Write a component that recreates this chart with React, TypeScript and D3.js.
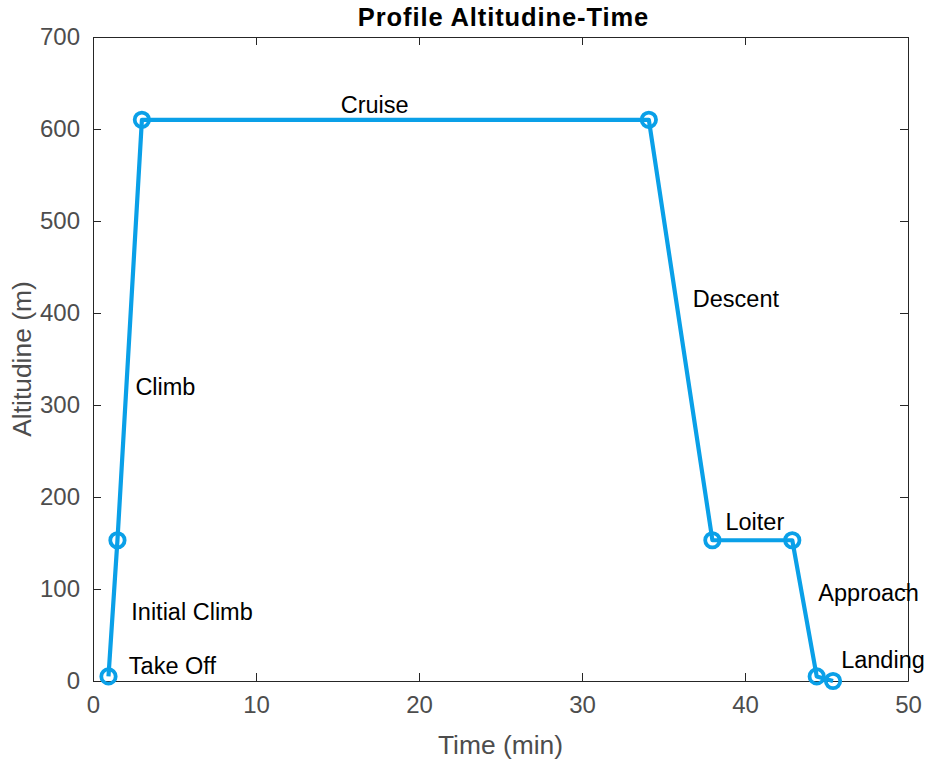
import React, { useRef, useEffect } from "react";
import * as d3 from "d3";

// flight profile points (time in min, altitude in m)
const times = [0.95, 1.5, 3, 34.1, 38, 42.9, 44.4, 45.4];
const altitudes = [5, 153, 610, 610, 153, 153, 5, 0];

// phase labels, placed in data coordinates (left aligned, vertically centered)
const labelText = ["Take Off", "Initial Climb", "Climb", "Cruise", "Descent", "Loiter", "Approach", "Landing"];
const labelX = [2.2, 2.35, 2.6, 15.2, 36.8, 38.8, 44.5, 45.9];
const labelY = [16, 75, 320, 626, 415, 173, 96, 23];

const xTicks = [0, 10, 20, 30, 40, 50];
const yTicks = [0, 100, 200, 300, 400, 500, 600, 700];

const W = 927;
const H = 765;
const margin = { left: 93, top: 37, right: 19, bottom: 84 };
const lineColor = "#0aa0e8";

export default function App() {
  const svgRef = useRef<SVGSVGElement>(null);

  useEffect(() => {
    const svg = d3.select(svgRef.current);
    svg.selectAll("*").remove();

    const x = d3.scaleLinear().domain([0, 50]).range([margin.left, W - margin.right]);
    const y = d3.scaleLinear().domain([0, 700]).range([H - margin.bottom, margin.top]);
    const font = "'Liberation Sans', Arial, sans-serif";
    const axisColor = "#262626";

    svg.append("rect").attr("width", W).attr("height", H).attr("fill", "white");

    // axes with inward ticks, MATLAB style box
    const tickLen = 8;
    const bottom = svg
      .append("g")
      .attr("transform", `translate(0,${y(0)})`)
      .call(d3.axisBottom(x).tickValues(xTicks).tickSizeInner(-tickLen).tickSizeOuter(0).tickPadding(15));
    const left = svg
      .append("g")
      .attr("transform", `translate(${x(0)},0)`)
      .call(d3.axisLeft(y).tickValues(yTicks).tickSizeInner(-tickLen).tickSizeOuter(0).tickPadding(13));
    const top = svg
      .append("g")
      .attr("transform", `translate(0,${y(700)})`)
      .call(d3.axisTop(x).tickValues(xTicks).tickSizeInner(-tickLen).tickSizeOuter(0).tickFormat(() => ""));
    const right = svg
      .append("g")
      .attr("transform", `translate(${x(50)},0)`)
      .call(d3.axisRight(y).tickValues(yTicks).tickSizeInner(-tickLen).tickSizeOuter(0).tickFormat(() => ""));

    [bottom, left, top, right].forEach((g) => {
      g.selectAll("path").attr("stroke", axisColor).attr("stroke-width", 1);
      g.selectAll("line").attr("stroke", axisColor).attr("stroke-width", 1);
      g.selectAll("text")
        .attr("fill", "#4d4d4d")
        .style("font-family", font)
        .style("font-size", "24px");
    });

    // line + circle markers
    const pts = times.map((t, i) => ({ t, a: altitudes[i] }));
    const line = d3
      .line<{ t: number; a: number }>()
      .x((d) => x(d.t))
      .y((d) => y(d.a));

    svg
      .append("path")
      .datum(pts)
      .attr("fill", "none")
      .attr("stroke", lineColor)
      .attr("stroke-width", 4.2)
      .attr("stroke-linejoin", "round")
      .attr("d", line);

    svg
      .selectAll(".marker")
      .data(pts)
      .enter()
      .append("circle")
      .attr("class", "marker")
      .attr("cx", (d) => x(d.t))
      .attr("cy", (d) => y(d.a))
      .attr("r", 7.2)
      .attr("fill", "none")
      .attr("stroke", lineColor)
      .attr("stroke-width", 3.8);

    // phase labels
    svg
      .selectAll(".phase")
      .data(labelText)
      .enter()
      .append("text")
      .attr("class", "phase")
      .attr("x", (_, i) => x(labelX[i]))
      .attr("y", (_, i) => y(labelY[i]))
      .attr("dominant-baseline", "central")
      .style("font-family", font)
      .style("font-size", "23.5px")
      .attr("fill", "black")
      .text((d) => d);

    // title and axis labels
    svg
      .append("text")
      .attr("x", (x(0) + x(50)) / 2 + 3)
      .attr("y", 26)
      .attr("text-anchor", "middle")
      .style("font-family", font)
      .style("font-size", "25.5px")
      .style("font-weight", "bold")
      .style("letter-spacing", "0.9px")
      .attr("fill", "black")
      .text("Profile Altitudine-Time");

    svg
      .append("text")
      .attr("x", (x(0) + x(50)) / 2)
      .attr("y", 754)
      .attr("text-anchor", "middle")
      .style("font-family", font)
      .style("font-size", "26.4px")
      .attr("fill", "#4d4d4d")
      .text("Time (min)");

    svg
      .append("text")
      .attr("transform", `translate(31,${(y(0) + y(700)) / 2}) rotate(-90)`)
      .attr("text-anchor", "middle")
      .style("font-family", font)
      .style("font-size", "26.4px")
      .attr("fill", "#4d4d4d")
      .text("Altitudine (m)");
  }, []);

  return (
    <svg
      ref={svgRef}
      width={W}
      height={H}
      style={{ position: "absolute", left: 0, top: 0 }}
    ></svg>
  );
}
